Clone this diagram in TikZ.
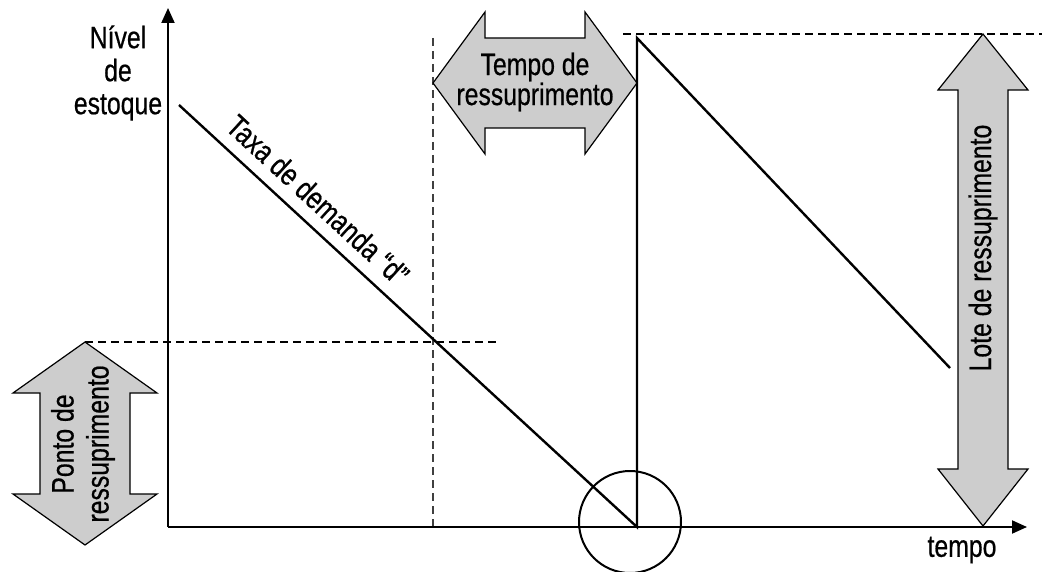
\documentclass[tikz,border=0pt]{standalone}
\usepackage{fontspec}
\setmainfont[FakeStretch=0.8,FakeBold=0.6]{Liberation Sans}
\usetikzlibrary{arrows.meta}
\definecolor{arrowgray}{RGB}{205,205,205}
\tikzset{
  lbl/.style={font=\fontsize{31}{31}\selectfont, align=center, inner sep=0pt},
  fatarrow/.style={fill=arrowgray, draw=black, line width=1.2pt, line join=miter},
  axis/.style={line width=2pt, -{Triangle[length=15pt,width=13pt]}},
  stock/.style={line width=2.4pt},
  guide/.style={line width=1.6pt, dash pattern=on 8pt off 5pt},
}
\begin{document}
\begin{tikzpicture}[x=1pt,y=-1pt]
\useasboundingbox (0,0) rectangle (1051,572);
% coordinates
\coordinate (O) at (168,527);
\coordinate (ytop) at (168,8);
\coordinate (xend) at (1027,527);
\coordinate (d0) at (179,105);
\coordinate (z) at (637,527);
\coordinate (peak) at (637,38);
\coordinate (d1) at (950,368);
% guides
\draw[guide] (85,342) -- (497,342);
\draw[guide, draw=black!75] (433,38) -- (433,527);
\draw[guide] (623,34) -- (1042,34);
% fat arrows
\draw[fatarrow] (85,342) -- (157,393) -- (130,393) -- (130,494) -- (157,494) -- (85,545)
  -- (13,494) -- (40,494) -- (40,393) -- (13,393) -- cycle;
\draw[fatarrow] (433,83) -- (485,12) -- (485,38) -- (585,38) -- (585,12) -- (637,83)
  -- (585,154) -- (585,128) -- (485,128) -- (485,154) -- cycle;
\draw[fatarrow] (983,34) -- (1028,90) -- (1008,90) -- (1008,469) -- (1028,469) -- (983,526)
  -- (938,469) -- (958,469) -- (958,90) -- (938,90) -- cycle;
% axes
\draw[axis] (O) -- (ytop);
\draw[axis] (O) -- (xend);
% stock level
\draw[stock, line join=miter] (d0) -- (z) -- (peak) -- (d1);
% circle
\node[draw, circle, line width=2pt, minimum size=102pt, inner sep=0pt] (c) at (630,522) {};
% labels
\node[lbl, font=\fontsize{31}{33}\selectfont] (nivel) at (118,73) {Nível\\de\\estoque};
\node[lbl] (tempo) at (962,550) {tempo};
\node[lbl, rotate=-42.6] (taxa) at (318,200) {Taxa de demanda “d”};
\node[lbl, font=\fontsize{31}{30}\selectfont] (tr) at (535,82) {Tempo de\\ressuprimento};
\node[lbl, rotate=90, font=\fontsize{31}{35}\selectfont] (pr) at (83,444) {Ponto de\\ressuprimento};
\node[lbl, rotate=90] (lr) at (983,248) {Lote de ressuprimento};
\end{tikzpicture}
\end{document}
